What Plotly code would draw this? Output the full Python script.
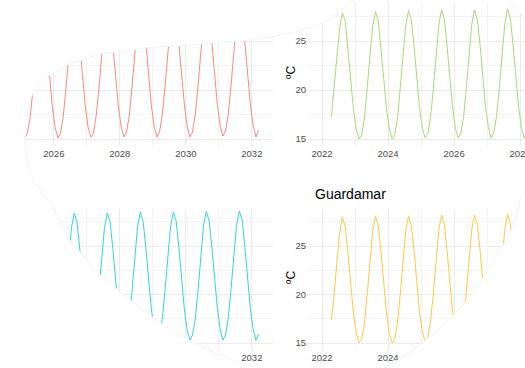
import pandas as pd
import plotly.graph_objects as go

# ---------------- data (monthly, Apr 2022 - Mar 2032) ----------------
start_month = "2022-04-01"
n_months = 120

serie_roja = [
    17.4, 20.1, 23.5, 26.4, 28.0, 27.1, 24.4, 21.1, 18.1,
    16.1, 15.1, 15.5, 17.2, 20.0, 23.5, 26.6, 28.1, 27.2, 24.5, 21.2, 18.2,
    16.1, 15.1, 15.5, 17.2, 20.1, 23.6, 26.7, 28.2, 27.2, 24.6, 21.2, 18.2,
    16.2, 15.1, 15.6, 17.3, 20.1, 23.6, 26.7, 28.2, 27.3, 24.6, 21.3, 18.3,
    16.2, 15.1, 15.6, 17.3, 20.2, 23.7, 26.8, 28.3, 27.3, 24.7, 21.3, 18.3,
    16.2, 15.2, 15.6, 17.4, 20.2, 23.7, 26.8, 28.3, 27.4, 24.7, 21.4, 18.4,
    16.3, 15.2, 15.7, 17.4, 20.3, 23.8, 26.9, 28.4, 27.4, 24.8, 21.4, 18.4,
    16.3, 15.2, 15.7, 17.5, 20.3, 23.8, 26.9, 28.4, 27.5, 24.8, 21.5, 18.5,
    16.3, 15.2, 15.7, 17.5, 20.4, 23.9, 27.0, 28.5, 27.5, 24.9, 21.5, 18.5,
    16.4, 15.3, 15.8, 17.5, 20.4, 23.9, 27.0, 28.5, 27.6, 24.9, 21.6, 18.6,
    16.4, 15.2, 15.9,
]

serie_verde = [
    17.3, 20.0, 23.4, 26.3, 27.9, 27.0, 24.3, 21.0, 18.0,
    16.0, 15.0, 15.4, 17.1, 19.9, 23.4, 26.5, 28.0, 27.1, 24.4, 21.1, 18.1,
    16.1, 15.0, 15.5, 17.1, 20.0, 23.5, 26.6, 28.1, 27.1, 24.5, 21.1, 18.1,
    16.1, 15.1, 15.5, 17.2, 20.0, 23.5, 26.6, 28.2, 27.2, 24.5, 21.2, 18.2,
    16.1, 15.1, 15.5, 17.2, 20.1, 23.6, 26.7, 28.2, 27.2, 24.6, 21.2, 18.2,
    16.2, 15.1, 15.6, 17.3, 20.1, 23.6, 26.7, 28.3, 27.3, 24.6, 21.3, 18.3,
    16.2, 15.1, 15.6, 17.3, 20.2, 23.7, 26.8, 28.3, 27.3, 24.7, 21.3, 18.3,
    16.2, 15.2, 15.6, 17.4, 20.2, 23.7, 26.8, 28.4, 27.4, 24.7, 21.4, 18.4,
    16.3, 15.2, 15.7, 17.4, 20.3, 23.8, 26.9, 28.4, 27.4, 24.8, 21.4, 18.4,
    16.3, 15.2, 15.7, 17.4, 20.3, 23.8, 26.9, 28.5, 27.5, 24.8, 21.5, 18.5,
    16.3, 15.2, 15.8,
]

serie_cian = [
    17.4, 20.1, 23.6, 26.6, 28.2, 27.2, 24.5, 21.2, 18.2,
    16.1, 15.1, 15.5, 17.2, 20.1, 23.6, 26.7, 28.3, 27.3, 24.6, 21.2, 18.2,
    16.1, 15.1, 15.5, 17.3, 20.1, 23.7, 26.8, 28.3, 27.3, 24.6, 21.3, 18.3,
    16.2, 15.1, 15.6, 17.3, 20.2, 23.7, 26.8, 28.4, 27.4, 24.7, 21.3, 18.3,
    16.2, 15.2, 15.6, 17.4, 20.2, 23.8, 26.9, 28.4, 27.4, 24.7, 21.4, 18.4,
    16.2, 15.2, 15.6, 17.4, 20.3, 23.8, 26.9, 28.4, 27.5, 24.8, 21.4, 18.4,
    16.3, 15.2, 15.7, 17.5, 20.3, 23.9, 27.0, 28.5, 27.5, 24.8, 21.5, 18.5,
    16.3, 15.2, 15.7, 17.5, 20.4, 23.9, 27.0, 28.5, 27.6, 24.9, 21.5, 18.5,
    16.3, 15.3, 15.8, 17.5, 20.4, 24.0, 27.1, 28.6, 27.6, 24.9, 21.6, 18.6,
    16.4, 15.3, 15.8, 17.6, 20.5, 24.0, 27.1, 28.6, 27.7, 25.0, 21.6, 18.6,
    16.4, 15.3, 15.9,
]

serie_naranja = [
    17.4, 20.0, 23.4, 26.4, 28.0, 27.0, 24.3, 21.0, 18.0,
    16.0, 15.0, 15.4, 17.1, 19.9, 23.4, 26.5, 28.1, 27.1, 24.4, 21.1, 18.1,
    16.0, 15.0, 15.4, 17.1, 20.0, 23.5, 26.6, 28.1, 27.1, 24.5, 21.1, 18.1,
    16.1, 15.1, 15.5, 17.2, 20.0, 23.5, 26.6, 28.2, 27.2, 24.5, 21.2, 18.2,
    16.1, 15.1, 15.5, 17.2, 20.1, 23.6, 26.7, 28.2, 27.2, 24.6, 21.2, 18.2,
    16.2, 15.1, 15.6, 17.3, 20.1, 23.6, 26.7, 28.3, 27.3, 24.6, 21.3, 18.3,
    16.2, 15.1, 15.6, 17.3, 20.2, 23.7, 26.8, 28.3, 27.3, 24.7, 21.3, 18.3,
    16.2, 15.2, 15.6, 17.4, 20.2, 23.7, 26.8, 28.4, 27.4, 24.7, 21.4, 18.4,
    16.3, 15.2, 15.7, 17.4, 20.3, 23.8, 26.9, 28.4, 27.4, 24.8, 21.4, 18.4,
    16.3, 15.2, 15.7, 17.5, 20.3, 23.8, 26.9, 28.5, 27.5, 24.8, 21.5, 18.5,
    16.3, 15.2, 15.8,
]

panel_title = "Guardamar"
y_label = "ºC"
y_ticks = [15, 20, 25]

# ---------------- figure ----------------
W, H = 525, 368
meses = pd.date_range(start_month, periods=n_months, freq="MS") + pd.Timedelta(days=14)

def px(xp):
    return xp / W

def py(yp):
    return 1 - yp / H

colores = ["#F58A7E", "#ACD67C", "#30D5DA", "#FFC845"]
series = [serie_roja, serie_verde, serie_cian, serie_naranja]
ejes = [("x", "y"), ("x2", "y2"), ("x3", "y3"), ("x4", "y4")]

fig = go.Figure()
for s, c, (xa, ya) in zip(series, colores, ejes):
    fig.add_trace(go.Scatter(x=meses, y=s, mode="lines", xaxis=xa, yaxis=ya,
                             line=dict(color=c, width=1), hoverinfo="skip"))

font_fam = "Liberation Sans, Arial, sans-serif"
tick_font = dict(family=font_fam, size=9.5, color="#4D4D4D")

def xstyle(dom, rng, anchor, overflow="allow"):
    return dict(domain=dom, range=rng, anchor=anchor, type="date",
                tickformat="%Y", dtick="M24", tick0="2022-01-01",
                showgrid=True, gridcolor="#EBEBEB", gridwidth=1,
                minor=dict(dtick="M12", tick0="2021-01-01", showgrid=True,
                           gridcolor="#F3F3F3", gridwidth=0.8),
                zeroline=False, showline=False, ticks="", tickfont=tick_font,
                ticklabelstandoff=1, ticklabeloverflow=overflow,
                automargin=False, fixedrange=True)

def ystyle(dom, anchor, labels):
    return dict(domain=dom, range=[14.34, 28.86], anchor=anchor,
                tickvals=y_ticks, showticklabels=labels,
                showgrid=True, gridcolor="#EBEBEB", gridwidth=1,
                minor=dict(tickvals=[17.5, 22.5, 27.5], showgrid=True,
                           gridcolor="#F3F3F3", gridwidth=0.8),
                zeroline=False, showline=False, ticks="", tickfont=tick_font,
                automargin=False, fixedrange=True)

left_dom = [0, px(273)]
right_dom = [px(307), 1]
left_rng = ["2024-05-15", "2032-08-22"]
right_rng = ["2021-07-19", "2028-02-24"]
top_dom = [py(145.5), py(3.2)]
bot_dom = [py(349.4), py(208.6)]

fig.update_layout(
    width=W, height=H, margin=dict(l=0, r=0, t=0, b=0),
    paper_bgcolor="white", plot_bgcolor="white", showlegend=False,
    template="none",
    xaxis=xstyle(left_dom, left_rng, "y"),
    xaxis2=xstyle(right_dom, right_rng, "y2"),
    xaxis3=xstyle(left_dom, left_rng, "y3"),
    xaxis4=xstyle(right_dom, right_rng, "y4", overflow="hide past div"),
    yaxis=ystyle(top_dom, "x", False),
    yaxis2=ystyle(top_dom, "x2", True),
    yaxis3=ystyle(bot_dom, "x3", False),
    yaxis4=ystyle(bot_dom, "x4", True),
)

# white masks (the occluded areas of the reference picture), outer points off-canvas
mask_tl = [(-10, -10), (360, -10), (353, 0), (340, 12), (323, 23), (300, 31), (270, 37),
           (243, 41), (199, 44), (146, 48), (100, 54), (67, 65), (48, 76), (38, 86),
           (31, 97), (28, 110), (26, 125), (25, 140), (26, 155), (28, 166), (33, 180),
           (42, 193), (53, 207), (60, 222), (68, 238), (79, 251), (100, 275), (130, 300),
           (160, 323), (190, 341), (220, 355), (250, 367), (256, 380), (-10, 380)]
mask_tr = [(505, -10), (508, 0), (514, 5), (520, 12), (526, 23), (540, 30), (540, -10)]
mask_br = [(540, 180), (526, 186), (520, 200), (515, 222), (508, 237), (500, 250),
           (488, 270), (472, 295), (452, 317), (430, 337), (403, 357), (383, 369),
           (376, 380), (540, 380)]

def path(pts):
    return "M " + " L ".join(f"{px(a):.5f},{py(b):.5f}" for a, b in pts) + " Z"

for m in (mask_tl, mask_tr, mask_br):
    fig.add_shape(type="path", path=path(m), xref="paper", yref="paper",
                  fillcolor="white", line=dict(color="#EDF6F6", width=1), layer="above")

fig.add_annotation(text=panel_title, x=px(313), y=py(194), xref="paper", yref="paper",
                   xanchor="left", yanchor="middle", showarrow=False,
                   font=dict(family=font_fam, size=14, color="black"))
for yc in (73, 278):
    fig.add_annotation(text=y_label, x=px(291), y=py(yc), xref="paper", yref="paper",
                       xanchor="center", yanchor="middle", showarrow=False, textangle=-90,
                       font=dict(family=font_fam, size=12, color="black"))

fig.write_html("out.html", config={"displayModeBar": False},
               post_script="document.body.style.margin='0px';")
